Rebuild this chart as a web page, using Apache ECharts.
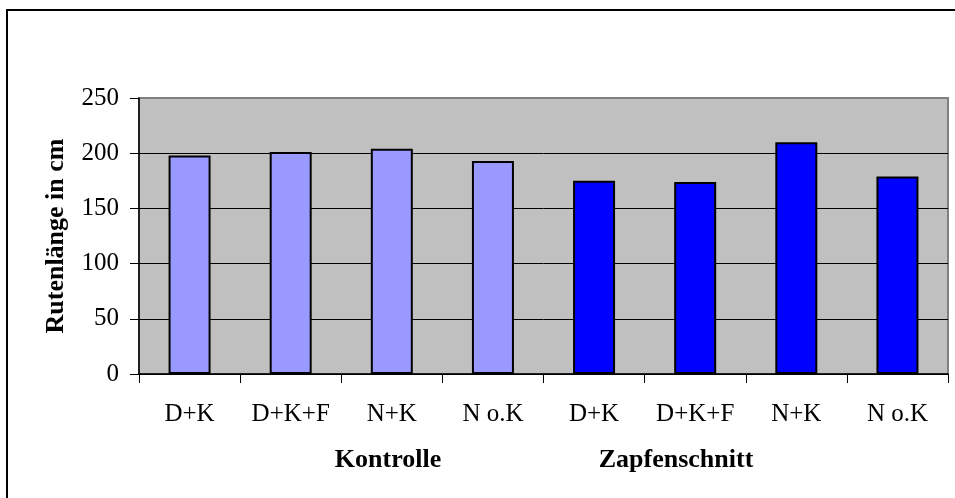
<!DOCTYPE html>
<html>
<head>
<meta charset="utf-8">
<script src="https://cdn.jsdelivr.net/npm/echarts@6/dist/echarts.min.js"></script>
<style>
	html, body { margin: 0; padding: 0; background: #fff; }
	#chart { width: 955px; height: 498px; }
</style>
</head>
<body>
<div id="chart"></div>
<script type="text/javascript">
	// Daten
	var categories = ['D+K', 'D+K+F', 'N+K', 'N o.K', 'D+K', 'D+K+F', 'N+K', 'N o.K'];
	var kontrolle = [198, 201, 204, 193];
	var zapfenschnitt = [175, 174, 210, 179];
	var groups = ['Kontrolle', 'Zapfenschnitt'];
	var yTicks = [0, 50, 100, 150, 200, 250];

	var werte = kontrolle.concat(zapfenschnitt);
	var farben = ['#9999FF', '#0000FF'];
	var serif = "'Liberation Serif', 'Times New Roman', serif";

	var myChart = echarts.init(document.getElementById('chart'));

	myChart.setOption({
		animation: false,
		graphic: [{
			type: 'rect',
			shape: { x: 7, y: 10, width: 1000, height: 600 },
			style: { fill: 'none', stroke: '#000', lineWidth: 2 }
		}, {
			type: 'text',
			x: 388, y: 460,
			style: { text: groups[0], fontFamily: serif, fontSize: 26, fontWeight: 'bold', fill: '#000', align: 'center', verticalAlign: 'middle' }
		}, {
			type: 'text',
			x: 676, y: 460,
			style: { text: groups[1], fontFamily: serif, fontSize: 26, fontWeight: 'bold', fill: '#000', align: 'center', verticalAlign: 'middle' }
		}],
		grid: {
			left: 139, top: 98, right: 7, bottom: 124,
			show: true,
			backgroundColor: '#C0C0C0',
			borderColor: '#808080',
			borderWidth: 2
		},
		xAxis: {
			type: 'category',
			data: categories,
			axisLine: { lineStyle: { color: '#000', width: 1.5 } },
			axisTick: { show: true, interval: 0, length: 9, lineStyle: { color: '#000' } },
			axisLabel: { interval: 0, hideOverlap: false, fontFamily: serif, fontSize: 25, color: '#000', margin: 28 }
		},
		yAxis: {
			type: 'value',
			min: yTicks[0],
			max: yTicks[yTicks.length - 1],
			interval: yTicks[1] - yTicks[0],
			name: 'Rutenlänge in cm',
			nameLocation: 'middle',
			nameGap: 70,
			nameTextStyle: { fontFamily: serif, fontSize: 26, fontWeight: 'bold', color: '#000' },
			axisLine: { show: true, lineStyle: { color: '#000', width: 1.5 } },
			axisTick: { show: true, length: 9, lineStyle: { color: '#000' } },
			axisLabel: { fontFamily: serif, fontSize: 25, color: '#000', margin: 20 },
			splitLine: { show: true, lineStyle: { color: ['#000', '#000', '#000', '#000', '#000', '#808080'], width: 1 } }
		},
		series: [{
			type: 'bar',
			data: werte,
			barWidth: 42,
			itemStyle: {
				color: function (p) { return p.dataIndex < kontrolle.length ? farben[0] : farben[1]; },
				borderColor: '#000',
				borderWidth: 2
			}
		}]
	});
</script>
</body>
</html>
